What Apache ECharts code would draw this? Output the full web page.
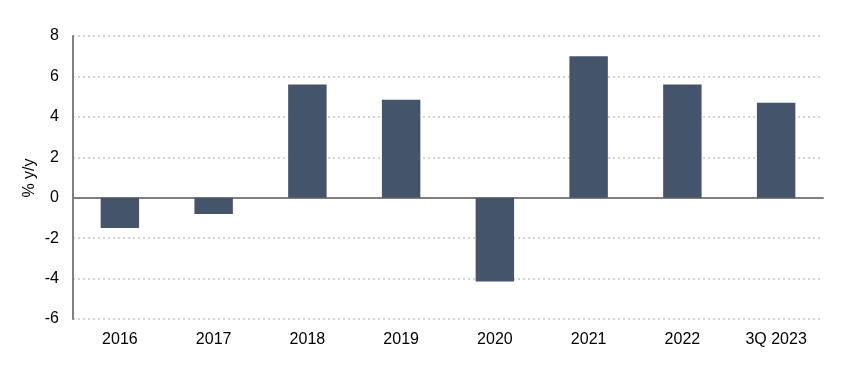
<!DOCTYPE html>
<html>
<head>
<meta charset="utf-8">
<script src="https://cdn.jsdelivr.net/npm/echarts@6/dist/echarts.min.js"></script>
<style>
  html, body { margin: 0; padding: 0; background: #fff; }
  #chart { width: 854px; height: 375px; }
</style>
</head>
<body>
<div id="chart"></div>
<script>
// values
var categories = ['2016', '2017', '2018', '2019', '2020', '2021', '2022', '3Q 2023'];
var growth = [-1.5, -0.8, 5.6, 4.85, -4.15, 7.0, 5.6, 4.7];

var barColor = '#44546a';
var font = 'Liberation Sans, Arial, sans-serif';

var chart = echarts.init(document.getElementById('chart'));
chart.setOption({
    animation: false,
    grid: { left: 73, right: 31, top: 36, bottom: 56 },
    // axis title, placed by hand so it sits where the reference has it
    graphic: [{
        type: 'text',
        x: 30,
        y: 178,
        rotation: Math.PI / 2,
        style: {
            text: '% y/y',
            fill: '#000',
            font: '16px ' + font,
            textAlign: 'center',
            textVerticalAlign: 'middle'
        }
    }],
    xAxis: [
        {
            type: 'category',
            data: categories,
            axisLine: { show: false, onZero: false },
            axisTick: { show: false },
            axisLabel: { color: '#000', fontSize: 16, fontFamily: font, margin: 13 }
        },
        {
            // zero line only
            type: 'category',
            data: categories,
            position: 'bottom',
            axisLine: { show: true, onZero: true, lineStyle: { color: '#808080', width: 2 } },
            axisTick: { show: false },
            axisLabel: { show: false }
        }
    ],
    yAxis: {
        type: 'value',
        min: -6,
        max: 8,
        interval: 2,
        axisLine: { show: true, lineStyle: { color: '#808080', width: 2 } },
        axisTick: { show: false },
        axisLabel: { color: '#000', fontSize: 16, fontFamily: font, margin: 14 },
        splitLine: { lineStyle: { color: '#c8c8c8', type: [2, 3], width: 1.5 } }
    },
    series: [{
        type: 'bar',
        data: growth,
        xAxisIndex: 0,
        barWidth: '41%',
        itemStyle: { color: barColor }
    }]
});
</script>
</body>
</html>
